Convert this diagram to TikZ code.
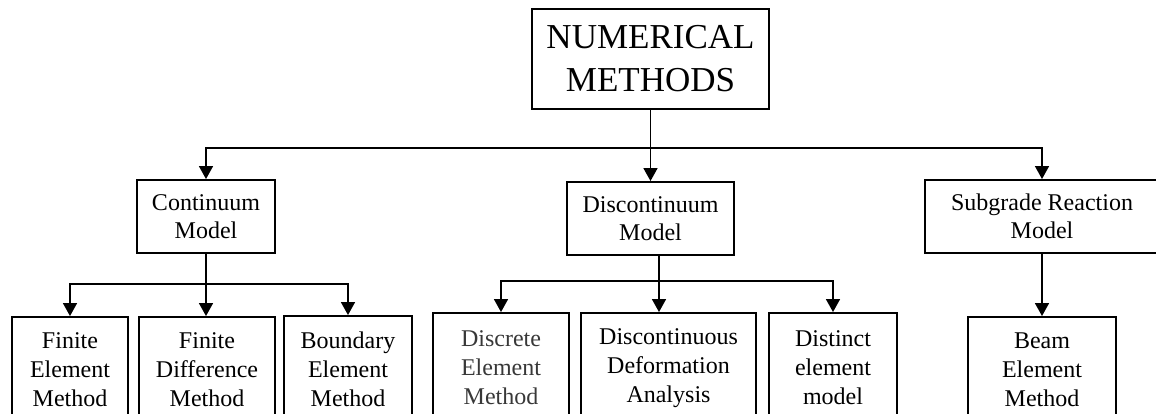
\documentclass[tikz,border=0pt]{standalone}
\usepackage{fontspec}
\setmainfont{Liberation Serif}
\usetikzlibrary{arrows.meta}
\begin{document}
\begin{tikzpicture}[x=1pt,y=-1pt,
  box/.style={draw,line width=1.9pt,inner sep=0pt,align=center,font=\fontsize{24}{28}\selectfont},
  leaf/.style={box,font=\fontsize{24}{29}\selectfont},
  conn/.style={line width=1.6pt},
  arr/.style={conn,-{Triangle[length=13pt,width=14pt]}}]
\useasboundingbox (0,0) rectangle (1156,414);
\clip (0,0) rectangle (1156,414);
% level 0
\node[box,minimum width=237,minimum height=100,font=\fontsize{35}{43}\selectfont] (top) at (650.5,59) {NUMERICAL\\METHODS};
% level 1
\node[box,minimum width=138,minimum height=73] (cont) at (206,216.5) {Continuum\\Model};
\node[box,minimum width=167,minimum height=73] (disc) at (650.5,218.5) {Discontinuum\\Model};
\node[box,minimum width=234,minimum height=73] (sub) at (1042,216.5) {Subgrade Reaction\\Model};
% level 2
\node[leaf,minimum width=116,minimum height=106] (fem) at (70,370) {Finite\\Element\\Method};
\node[leaf,minimum width=136,minimum height=106] (fdm) at (207,370) {Finite\\Difference\\Method};
\node[leaf,minimum width=128,minimum height=107] (bem) at (348,369.5) {Boundary\\Element\\Method};
\node[leaf,minimum width=136,minimum height=110,text=black!78] (dem) at (501,368) {Discrete\\Element\\Method};
\node[leaf,minimum width=175,minimum height=110] (dda) at (668.5,368) {Discontinuous\\Deformation\\Analysis};
\node[leaf,minimum width=128,minimum height=110] (dist) at (833,368) {Distinct\\element\\model};
\node[leaf,minimum width=148,minimum height=106] (beam) at (1042,370) {Beam\\Element\\Method};
% connectors
\coordinate (j0) at (650.5,148);
\draw[conn] (top.south) -- (j0);
\draw[arr] (j0) -| (cont.north);
\draw[arr] (j0) -| (sub.north);
\draw[arr] (j0) -- (disc.north);
\coordinate (j1) at (206,284);
\draw[conn] (cont.south) -- (j1);
\draw[arr] (j1) -| (fem.north);
\draw[arr] (j1) -- (fdm.north -| j1);
\draw[arr] (j1) -| (bem.north);
\coordinate (j2) at (659,281);
\draw[conn] (disc.south -| j2) -- (j2);
\draw[arr] (j2) -| (dem.north);
\draw[arr] (j2) -- (dda.north -| j2);
\draw[arr] (j2) -| (dist.north);
\draw[arr] (sub.south) -- (beam.north);
\end{tikzpicture}
\end{document}
